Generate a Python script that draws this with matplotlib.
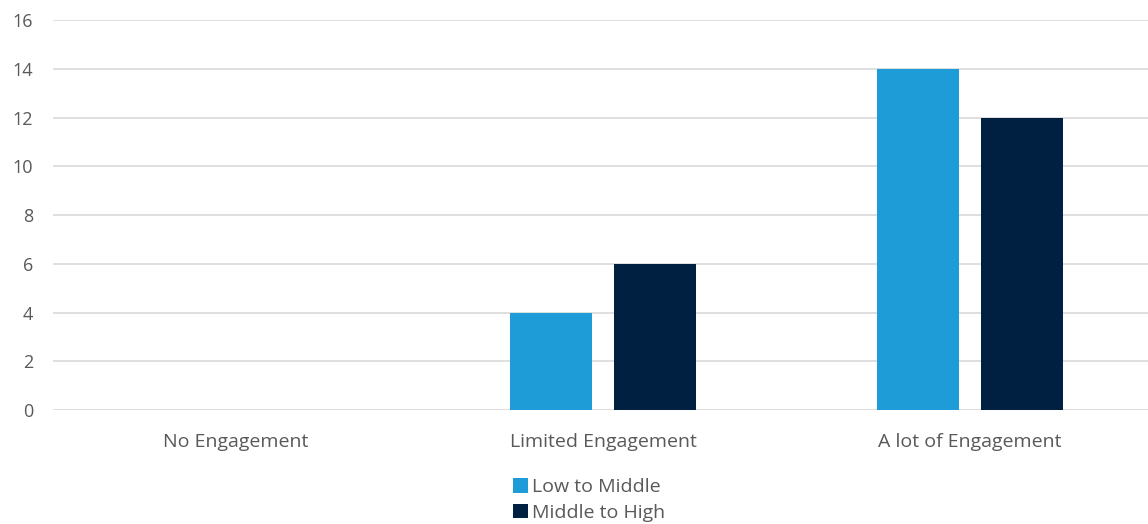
import numpy as np
import matplotlib.pyplot as plt

categories = ['No Engagement', 'Limited Engagement', 'A lot of Engagement']
low_to_middle = [0, 4, 14]
middle_to_high = [0, 6, 12]
y_ticks = [0, 2, 4, 6, 8, 10, 12, 14, 16]

plt.rcParams['font.family'] = ['Open Sans', 'DejaVu Sans']

fig = plt.figure(figsize=(11.48, 5.24), dpi=100)
ax = fig.add_axes([52.5 / 1148, 1 - 410 / 524, 1101 / 1148, 390 / 524])

x = np.arange(len(categories))
width = 0.224
offset = 0.142
ax.bar(x - offset, low_to_middle, width, color='#1E9CD7', label='Low to Middle', zorder=3)
ax.bar(x + offset, middle_to_high, width, color='#002041', label='Middle to High', zorder=3)

ax.set_xlim(-0.5, len(categories) - 0.5)
ax.set_ylim(0, 16)
ax.set_yticks(y_ticks)
ax.set_xticks(x)
ax.set_xticklabels(categories)
ax.yaxis.grid(True, color='#D9D9D9', linewidth=1.2, zorder=0)
ax.tick_params(axis='y', length=0, labelsize=13, labelcolor='#595959', pad=14)
ax.tick_params(axis='x', length=0, labelsize=14, labelcolor='#595959', pad=16.5)
for s in ax.spines.values():
    s.set_visible(False)

fig.legend(loc='center', bbox_to_anchor=(0.513, 0.046), ncol=1, frameon=False,
           fontsize=14, handlelength=0.75, handleheight=0.75, handletextpad=0.2,
           labelspacing=0.38, labelcolor='#595959')

fig.savefig('out.png', dpi=100)
